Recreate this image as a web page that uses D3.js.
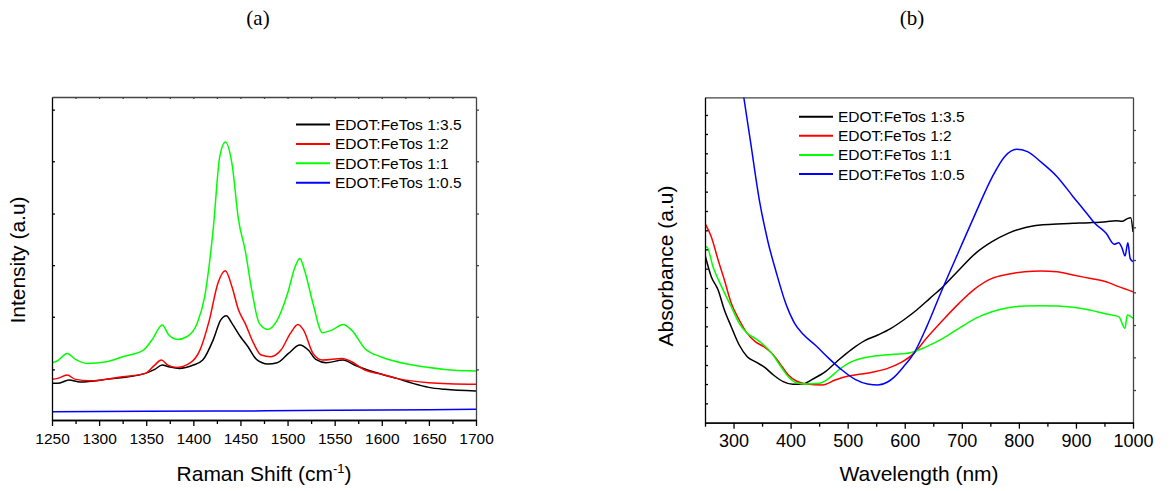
<!DOCTYPE html>
<html>
<head>
<meta charset="utf-8">
<script src="https://cdn.jsdelivr.net/npm/d3@7"></script>
<style>
  body { margin: 0; background: #fff; }
  text { font-family: "Liberation Sans", Arial, sans-serif; fill: #000; }
  .panel-title { font-family: "Liberation Serif", "DejaVu Serif", serif; }
</style>
</head>
<body>
<div id="chart"></div>
<script>
// legend labels / colours shared by both panels
const seriesNames = ["EDOT:FeTos 1:3.5", "EDOT:FeTos 1:2", "EDOT:FeTos 1:1", "EDOT:FeTos 1:0.5"];
const seriesColors = ["#000000", "#ff0000", "#00ff00", "#0000ff"];

// (a) Raman spectra: [raman shift cm-1, intensity a.u.]
const ramanBlack = [[1250,110],[1256,110],[1268,120],[1280,114],[1308,122],[1349,140],[1359,152],[1367,165],[1374,160],[1385,155],[1400,165],[1410,180],[1421,240],[1429,300],[1435,313],[1441,290],[1450,250],[1458,220],[1467,182],[1479,168],[1489,172],[1501,200],[1513,225],[1522,210],[1530,182],[1541,172],[1559,180],[1571,165],[1585,150],[1599,138],[1616,125],[1633,110],[1650,98],[1667,92],[1700,87]];
const ramanRed = [[1250,122],[1256,125],[1266,135],[1275,122],[1290,118],[1325,130],[1349,140],[1359,165],[1366,180],[1373,165],[1383,158],[1397,172],[1407,210],[1417,300],[1426,410],[1434,448],[1441,400],[1448,330],[1455,290],[1464,230],[1472,195],[1482,190],[1493,210],[1503,260],[1511,287],[1517,270],[1527,200],[1537,180],[1558,185],[1568,175],[1582,150],[1599,138],[1616,125],[1650,112],[1700,107]];
const ramanGreen = [[1250,172],[1256,178],[1266,200],[1275,182],[1287,170],[1308,175],[1325,190],[1347,210],[1356,240],[1367,285],[1374,255],[1383,242],[1393,250],[1404,290],[1412,370],[1421,570],[1428,790],[1434,835],[1441,770],[1448,600],[1455,510],[1462,390],[1470,290],[1479,272],[1489,300],[1500,380],[1508,460],[1513,485],[1518,450],[1527,350],[1537,262],[1547,270],[1559,287],[1568,270],[1582,215],[1599,190],[1633,165],[1667,152],[1700,147]];
const ramanBlue = [[1250,25],[1350,26],[1450,27],[1550,29],[1650,31],[1700,32]];

const ramanMajorTicks = [1250,1300,1350,1400,1450,1500,1550,1600,1650,1700];
const ramanMinorTicks = [1275,1325,1375,1425,1475,1525,1575,1625,1675];
const ramanYTicks = [152,310,465,620,777,932];

// (b) UV-vis absorbance: [wavelength nm, absorbance a.u.]
const uvBlack = [[250,503],[261,438],[273,398],[284,338],[296,288],[310,233],[324,198],[338,183],[353,168],[370,143],[387,123],[404,115],[421,116],[438,130],[461,153],[484,188],[507,220],[530,246],[553,263],[576,283],[598,308],[621,338],[644,373],[667,408],[695,458],[724,508],[753,543],[781,568],[810,585],[838,593],[867,596],[895,598],[924,600],[953,603],[970,606],[981,604],[990,612],[996,615],[1000,572]];
const uvRed = [[250,598],[261,558],[273,488],[284,428],[296,358],[310,308],[324,268],[338,243],[353,228],[367,208],[381,178],[396,143],[410,125],[427,116],[456,113],[478,128],[501,140],[524,146],[547,153],[570,163],[593,180],[616,208],[638,253],[667,308],[695,358],[724,403],[753,433],[781,445],[810,453],[838,455],[867,453],[895,443],[924,433],[953,423],[975,408],[1000,393]];
const uvGreen = [[250,523],[253,528],[264,468],[279,408],[296,348],[310,298],[324,268],[338,253],[353,233],[367,208],[381,173],[396,138],[410,120],[427,116],[450,118],[467,133],[484,158],[507,183],[530,195],[553,201],[581,205],[610,210],[638,228],[667,253],[695,283],[724,313],[753,333],[781,345],[810,350],[838,351],[867,350],[895,346],[924,338],[953,326],[975,318],[986,283],[990,323],[1000,313]];
const uvBlue = [[305,1130],[318,976],[330,840],[345,670],[360,545],[375,450],[392,355],[407,298],[422,265],[445,230],[467,193],[490,158],[513,130],[535,116],[553,113],[570,122],[581,136],[598,168],[616,208],[638,286],[664,393],[695,515],[724,628],[753,736],[775,798],[796,820],[815,813],[838,783],[867,738],[895,678],[918,630],[933,598],[953,568],[967,535],[975,540],[981,523],[986,500],[991,540],[995,493],[1000,483]];

const uvMajorTicks = [300,400,500,600,700,800,900,1000];
const uvMinorTicks = [250,350,450,550,650,750,850,950];
const uvYTicksLeft = [58,116,173,231,289,347,404,462,520,577,635,693,750,808,866,923];
const uvYTicksRight = [98,196,293,391,488,586,683,781,878];

const svg = d3.select("#chart").append("svg")
    .attr("width", 1174)
    .attr("height", 491);

function drawPanel(p) {
  const x = d3.scaleLinear().domain(p.xDomain).range([p.left, p.right]);
  const y = d3.scaleLinear().domain(p.yDomain).range([p.bottom, p.top]);
  const g = svg.append("g");

  // clip the curves to the frame
  g.append("clipPath").attr("id", p.id + "-clip")
    .append("rect")
      .attr("x", p.left).attr("y", p.top)
      .attr("width", p.right - p.left).attr("height", p.bottom - p.top);

  const line = d3.line()
    .x(d => x(d[0]))
    .y(d => y(d[1]))
    .curve(d3.curveMonotoneX);

  g.append("g").attr("clip-path", "url(#" + p.id + "-clip)")
    .selectAll("path")
    .data(p.series)
    .enter()
    .append("path")
      .attr("d", d => line(d))
      .attr("fill", "none")
      .attr("stroke", (d, i) => seriesColors[i])
      .attr("stroke-width", 1.5)
      .attr("stroke-linejoin", "round");

  // top / right axes (grey, tiny ticks)
  const top = g.append("g")
    .attr("transform", "translate(0," + p.top + ")")
    .call(d3.axisTop(x).tickValues(p.topTicks).tickSize(-2).tickSizeOuter(0).tickFormat(""));
  const right = g.append("g")
    .attr("transform", "translate(" + p.right + ",0)")
    .call(d3.axisRight(y).tickValues(p.yTicksRight).tickSize(3).tickSizeOuter(0).tickFormat(""));
  [top, right].forEach(a => a.selectAll("path, line").attr("stroke", "#444").attr("stroke-width", 1.3));

  // left axis: small inward ticks, no labels
  const left = g.append("g")
    .attr("transform", "translate(" + p.left + ",0)")
    .call(d3.axisLeft(y).tickValues(p.yTicksLeft).tickSize(-3).tickSizeOuter(0).tickFormat(""));

  // bottom axis: minor + labelled major ticks
  const bMinor = g.append("g")
    .attr("transform", "translate(0," + p.bottom + ")")
    .call(d3.axisBottom(x).tickValues(p.minorTicks).tickSize(4).tickSizeOuter(0).tickFormat(""));
  const bMajor = g.append("g")
    .attr("transform", "translate(0," + p.bottom + ")")
    .call(d3.axisBottom(x).tickValues(p.majorTicks).tickSize(6).tickSizeOuter(0).tickPadding(p.tickPad).tickFormat(d3.format("d")));
  [left, bMinor, bMajor].forEach(a => a.selectAll("path, line").attr("stroke", "#000").attr("stroke-width", 1.3));
  bMajor.attr("font-size", null);
  bMajor.selectAll("text")
    .attr("fill", "#000")
    .style("font-family", "'Liberation Sans', Arial, sans-serif")
    .style("font-size", p.tickFont + "px");

  // axis titles
  const xt = g.append("text")
    .attr("x", (p.left + p.right) / 2)
    .attr("y", 481)
    .attr("text-anchor", "middle")
    .style("font-size", "21px");
  xt.append("tspan").text(p.xTitle);
  if (p.xSup) {
    xt.append("tspan").attr("dy", -8).style("font-size", "13px").text(p.xSup);
    xt.append("tspan").attr("dy", 8).text(")");
  }

  g.append("text")
    .attr("transform", "translate(" + p.yTitleX + "," + p.yTitleY + ")rotate(-90)")
    .attr("text-anchor", "middle")
    .style("font-size", "21px")
    .text(p.yTitle);

  g.append("text")
    .attr("class", "panel-title")
    .attr("x", p.titleX)
    .attr("y", 25)
    .attr("text-anchor", "middle")
    .style("font-size", "21px")
    .text(p.title);

  // legend
  const lg = g.append("g");
  seriesNames.forEach((name, i) => {
    const ly = p.legY + i * p.legStep;
    lg.append("line")
      .attr("x1", p.legX).attr("x2", p.legX + 34)
      .attr("y1", ly).attr("y2", ly)
      .attr("stroke", seriesColors[i])
      .attr("stroke-width", 2);
    lg.append("text")
      .attr("x", p.legX + 39)
      .attr("y", ly)
      .attr("dy", "0.36em")
      .style("font-size", "15.5px")
      .text(name);
  });
}

drawPanel({
  id: "raman",
  left: 52, right: 476, top: 97, bottom: 420,
  xDomain: [1250, 1700], yDomain: [0, 970],
  series: [ramanBlack, ramanRed, ramanGreen, ramanBlue],
  majorTicks: ramanMajorTicks, minorTicks: ramanMinorTicks,
  topTicks: ramanMinorTicks.concat(ramanMajorTicks.slice(1, -1)),
  yTicksLeft: ramanYTicks, yTicksRight: ramanYTicks,
  tickFont: 15.5, tickPad: 7,
  xTitle: "Raman Shift (cm", xSup: "-1",
  yTitle: "Intensity (a.u)", yTitleX: 25, yTitleY: 260,
  title: "(a)", titleX: 258,
  legX: 296, legY: 124.5, legStep: 19.4
});

drawPanel({
  id: "uv",
  left: 705, right: 1133, top: 97.3, bottom: 422.7,
  xDomain: [250, 1000], yDomain: [0, 976],
  series: [uvBlack, uvRed, uvGreen, uvBlue],
  majorTicks: uvMajorTicks, minorTicks: uvMinorTicks,
  topTicks: [],
  yTicksLeft: uvYTicksLeft, yTicksRight: uvYTicksRight,
  tickFont: 18, tickPad: 6,
  xTitle: "Wavelength (nm)",
  yTitle: "Absorbance (a.u)", yTitleX: 673, yTitleY: 266,
  title: "(b)", titleX: 912,
  legX: 799, legY: 116.7, legStep: 19.1
});
</script>
</body>
</html>
